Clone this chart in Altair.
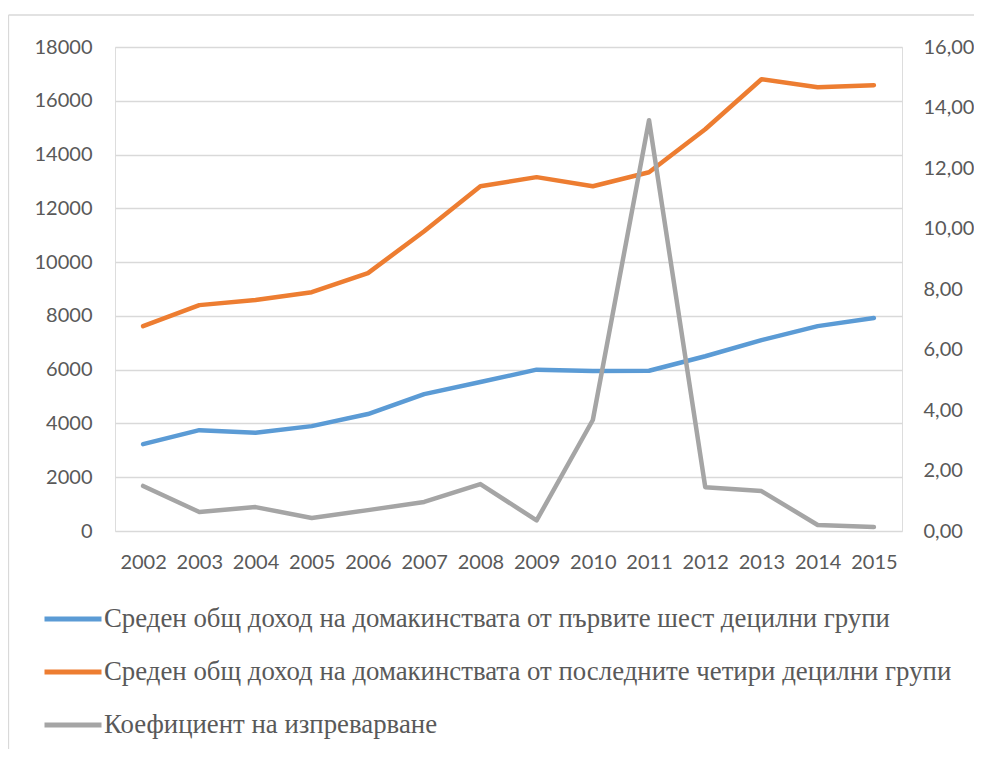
import altair as alt
import pandas as pd

years = [str(y) for y in range(2002, 2016)]
first_six = [3230, 3750, 3650, 3900, 4350, 5090, 5540, 6000, 5950, 5960, 6500, 7100, 7620, 7920]
last_four = [7620, 8400, 8590, 8880, 9590, 11150, 12820, 13160, 12820, 13340, 14940, 16800, 16500, 16580]
coef = [1.49, 0.63, 0.79, 0.43, 0.69, 0.96, 1.55, 0.35, 3.67, 13.58, 1.45, 1.32, 0.20, 0.13]

s1 = "Среден общ доход на домакинствата от първите шест децилни групи"
s2 = "Среден общ доход на домакинствата от последните четири децилни групи"
s3 = "Коефициент на изпреварване"
series = [s1, s2, s3]
colors = ["#5B9BD5", "#ED7D31", "#A5A5A5"]

left_df = pd.DataFrame({
    "year": years * 2,
    "value": first_six + last_four,
    "series": [s1] * len(years) + [s2] * len(years),
})
right_df = pd.DataFrame({"year": years, "value": coef, "series": [s3] * len(years)})

W, H = 787, 484
PL, PT, PR, PB = 107, 39, 72, 218

color = alt.Color(
    "series:N",
    scale=alt.Scale(domain=series, range=colors),
    sort=series,
    legend=alt.Legend(
        title=None,
        orient="none",
        legendX=-73,
        legendY=541,
        direction="vertical",
        symbolType="stroke",
        symbolSize=3249,
        symbolStrokeWidth=5,
        labelFont="Liberation Serif",
        labelFontSize=26.8,
        labelColor="#595959",
        labelLimit=0,
        labelOffset=0,
        rowPadding=8,
        padding=0,
    ),
)

xenc = alt.X(
    "year:O",
    title=None,
    axis=alt.Axis(
        labelAngle=0, labelFont="Lato", labelFontSize=20, labelColor="#595959",
        ticks=False, domain=False, labelPadding=21, grid=False,
    ),
)

left = alt.Chart(left_df).mark_line(strokeWidth=4.5, strokeJoin="round", strokeCap="round").encode(
    x=xenc,
    y=alt.Y(
        "value:Q",
        title=None,
        scale=alt.Scale(domain=[0, 18000], nice=False),
        axis=alt.Axis(
            values=list(range(0, 18001, 2000)), format="d", labelFont="Lato", labelFontSize=20,
            labelColor="#595959", ticks=False, domain=False, labelPadding=23,
            grid=True, gridColor="#D9D9D9", gridWidth=1.3,
        ),
    ),
    color=color,
    detail="series:N",
)

right = alt.Chart(right_df).mark_line(strokeWidth=4.5, strokeJoin="round", strokeCap="round").encode(
    x=xenc,
    y=alt.Y(
        "value:Q",
        title=None,
        scale=alt.Scale(domain=[0, 16], nice=False),
        axis=alt.Axis(
            orient="right", values=list(range(0, 17, 2)),
            labelExpr="replace(format(datum.value, '.2f'), '.', ',')",
            labelFont="Lato", labelFontSize=20, labelColor="#595959",
            ticks=False, domain=False, labelPadding=21, grid=False,
        ),
    ),
    color=color,
)

frame_df = pd.DataFrame({"k": [0]})
frame_top = alt.Chart(frame_df).mark_rule(color="#D9D9D9", strokeWidth=1.3).encode(
    x=alt.value(-106.5), x2=alt.value(W + PR), y=alt.value(-32)
)
frame_left = alt.Chart(frame_df).mark_rule(color="#D9D9D9", strokeWidth=1.3).encode(
    x=alt.value(-106.5), y=alt.value(-32), y2=alt.value(H + PB)
)

chart = alt.layer(left, right, frame_top, frame_left).resolve_scale(y="independent").properties(
    width=W,
    height=H,
    padding={"left": PL, "top": PT, "right": PR, "bottom": PB},
    autosize=alt.AutoSizeParams(type="none"),
).configure_view(stroke=None).configure(background="white")

chart.save("out.html", embed_options={"renderer": "svg", "actions": False})
